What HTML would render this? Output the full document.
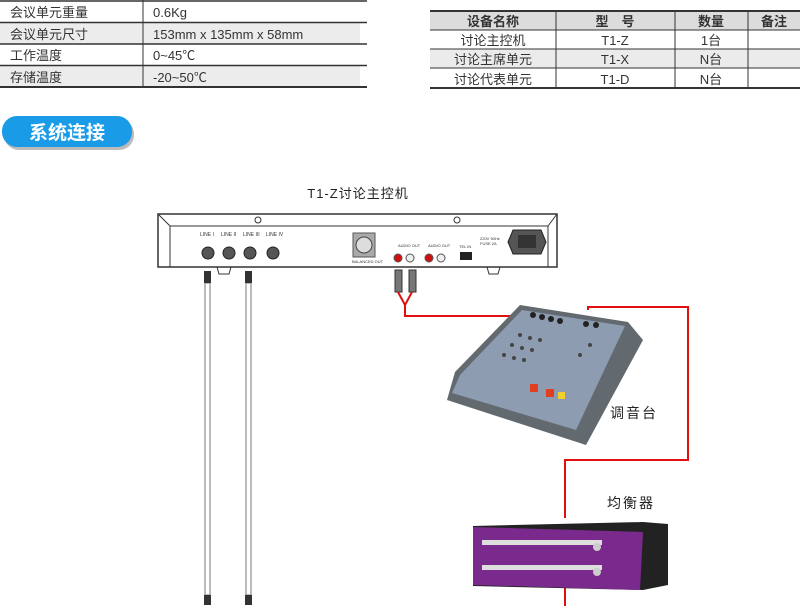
<!DOCTYPE html>
<html><head><meta charset="utf-8"><style>
body{margin:0;background:#fff;width:800px;height:606px;overflow:hidden;font-family:"Liberation Sans","Noto Sans CJK SC",sans-serif}
</style></head><body>
<svg width="800" height="606" viewBox="0 0 800 606" xmlns="http://www.w3.org/2000/svg" font-family="Liberation Sans, Noto Sans CJK SC, sans-serif">
<!-- left table -->
<rect x="0" y="23" width="360" height="21" fill="#ececec"/>
<rect x="0" y="66" width="360" height="21" fill="#ececec"/>
<g stroke="#333" stroke-width="1.5"><line x1="0" y1="1" x2="367" y2="1"/><line x1="0" y1="22.5" x2="367" y2="22.5"/><line x1="0" y1="44" x2="367" y2="44"/><line x1="0" y1="65.5" x2="367" y2="65.5"/><line x1="0" y1="87" x2="367" y2="87" stroke-width="2"/></g>
<line x1="143" y1="0" x2="143" y2="87" stroke="#333"/>
<g font-size="13" fill="#333"><text x="10" y="17">会议单元重量</text><text x="10" y="39">会议单元尺寸</text><text x="10" y="60">工作温度</text><text x="10" y="82">存储温度</text>
<text x="153" y="17">0.6Kg</text><text x="153" y="39">153mm x 135mm x 58mm</text><text x="153" y="60">0~45℃</text><text x="153" y="82">-20~50℃</text></g>
<!-- right table -->
<rect x="430" y="11" width="370" height="19" fill="#dcdcdc"/>
<rect x="430" y="49" width="370" height="19" fill="#ebebeb"/>
<g stroke="#333"><line x1="430" y1="11" x2="800" y2="11" stroke-width="2"/><line x1="430" y1="30" x2="800" y2="30"/><line x1="430" y1="49" x2="800" y2="49"/><line x1="430" y1="68" x2="800" y2="68"/><line x1="430" y1="88" x2="800" y2="88" stroke-width="2"/>
<line x1="556" y1="11" x2="556" y2="88"/><line x1="675" y1="11" x2="675" y2="88"/><line x1="748" y1="11" x2="748" y2="88"/></g>
<g font-size="13" fill="#333" text-anchor="middle"><text x="493" y="26" font-weight="bold">设备名称</text><text x="615" y="26" font-weight="bold">型　号</text><text x="711" y="26" font-weight="bold">数量</text><text x="774" y="26" font-weight="bold">备注</text>
<text x="493" y="45">讨论主控机</text><text x="615" y="45">T1-Z</text><text x="711" y="45">1台</text>
<text x="493" y="64">讨论主席单元</text><text x="615" y="64">T1-X</text><text x="711" y="64">N台</text>
<text x="493" y="84">讨论代表单元</text><text x="615" y="84">T1-D</text><text x="711" y="84">N台</text></g>
<!-- button -->
<rect x="4" y="119" width="130" height="31" rx="15" fill="#bbb"/>
<rect x="2" y="116" width="130" height="31" rx="15" fill="#1a9be8"/>
<text x="67" y="139" font-size="19" font-weight="bold" fill="#fff" text-anchor="middle">系统连接</text>
<!-- title -->
<text x="358" y="198" font-size="13" fill="#222" text-anchor="middle" letter-spacing="1">T1-Z讨论主控机</text>
<!-- main unit -->
<rect x="158" y="214" width="399" height="53" fill="#fff" stroke="#333" stroke-width="1.5"/>
<polyline points="158,214 170,226 548,226 557,214" fill="none" stroke="#333"/>
<line x1="170" y1="226" x2="170" y2="267" stroke="#333"/><line x1="548" y1="226" x2="548" y2="267" stroke="#333"/>
<path d="M217 267 L219 274 L229 274 L231 267" fill="none" stroke="#333"/>
<path d="M487 267 L489 274 L498 274 L500 267" fill="none" stroke="#333"/>
<g fill="none" stroke="#333"><circle cx="258" cy="220" r="3"/><circle cx="457" cy="220" r="3"/></g>
<g font-size="5" fill="#333"><text x="200" y="236">LINE I</text><text x="221" y="236">LINE II</text><text x="243" y="236">LINE III</text><text x="266" y="236">LINE IV</text></g>
<g fill="#555" stroke="#222"><circle cx="208" cy="253" r="6"/><circle cx="229" cy="253" r="6"/><circle cx="250" cy="253" r="6"/><circle cx="273" cy="253" r="6"/></g>
<rect x="353" y="233" width="22" height="24" fill="#aaa" stroke="#555"/><circle cx="364" cy="245" r="8" fill="#ddd" stroke="#444"/>
<text x="352" y="263" font-size="4" fill="#333">BALANCED OUT</text>
<g stroke="#555"><circle cx="398" cy="258" r="4" fill="#d01010"/><circle cx="410" cy="258" r="4" fill="#eee"/><circle cx="429" cy="258" r="4" fill="#d01010"/><circle cx="441" cy="258" r="4" fill="#eee"/></g>
<g font-size="4" fill="#333"><text x="398" y="247">AUDIO OUT</text><text x="428" y="247">AUDIO OUT</text><text x="459" y="248">TEL IN</text><text x="480" y="240">220V 50Hz</text><text x="480" y="245">FUSE 2A</text></g>
<rect x="460" y="252" width="12" height="8" fill="#222"/>
<polygon points="513,230 541,230 546,242 541,254 513,254 508,242" fill="#555" stroke="#222"/>
<rect x="518" y="235" width="18" height="13" fill="#333"/>
<!-- left cables -->
<g fill="#fff" stroke="#777"><rect x="205" y="283" width="5" height="312"/><rect x="246" y="283" width="5" height="312"/></g>
<g fill="#333"><rect x="204" y="271" width="7" height="12"/><rect x="245" y="271" width="7" height="12"/><rect x="204" y="595" width="7" height="10"/><rect x="245" y="595" width="7" height="10"/></g>
<!-- RCA plugs -->
<g fill="#777" stroke="#333"><rect x="395" y="270" width="7" height="22"/><rect x="409" y="270" width="7" height="22"/></g>
<g fill="none" stroke="#e01010" stroke-width="2"><polyline points="398,292 405,305 412,292"/><polyline points="405,305 405,316 525,316"/>
<polyline points="588,310 588,307 688,307 688,460 565,460 565,518"/><line x1="565" y1="588" x2="565" y2="606"/></g>
<!-- mixer -->
<polygon points="455,372 520,305 628,322 643,340 586,445 447,400" fill="#62696f"/>
<polygon points="460,375 522,310 625,326 576,430 452,393" fill="#8d9cb0"/>
<g fill="#222"><circle cx="533" cy="315" r="3"/><circle cx="542" cy="317" r="3"/><circle cx="551" cy="319" r="3"/><circle cx="560" cy="321" r="3"/><circle cx="586" cy="324" r="3"/><circle cx="596" cy="325" r="3"/></g>
<g fill="#444"><circle cx="520" cy="335" r="2"/><circle cx="530" cy="338" r="2"/><circle cx="540" cy="340" r="2"/><circle cx="512" cy="345" r="2"/><circle cx="522" cy="348" r="2"/><circle cx="532" cy="350" r="2"/><circle cx="504" cy="355" r="2"/><circle cx="514" cy="358" r="2"/><circle cx="524" cy="360" r="2"/><circle cx="580" cy="355" r="2"/><circle cx="590" cy="345" r="2"/></g>
<g fill="#e04020"><rect x="530" y="384" width="8" height="8"/><rect x="546" y="389" width="8" height="8"/></g>
<rect x="558" y="392" width="7" height="7" fill="#f0d030"/>
<text x="610" y="418" font-size="14" fill="#222" letter-spacing="2">调音台</text>
<text x="607" y="508" font-size="14" fill="#222" letter-spacing="2">均衡器</text>
<!-- equalizer -->
<polygon points="473,526 643,522 668,524 668,585 643,590 473,586" fill="#222"/>
<polygon points="473,527 643,532 640,590 473,585" fill="#7a2a8c"/>
<rect x="482" y="540" width="120" height="5" fill="#ddd"/>
<rect x="482" y="565" width="120" height="5" fill="#ddd"/>
<g fill="#ccc"><circle cx="597" cy="547" r="4"/><circle cx="597" cy="572" r="4"/></g>
</svg>
</body></html>
